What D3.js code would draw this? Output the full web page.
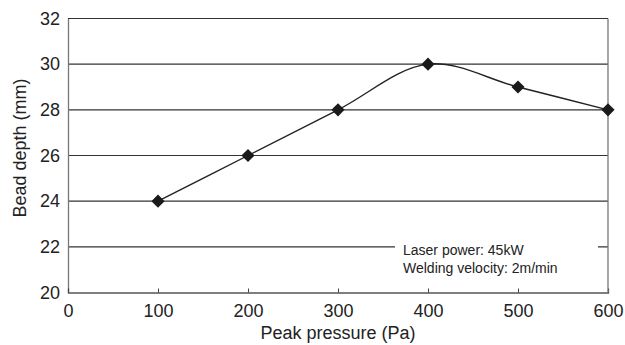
<!DOCTYPE html>
<html>
<head>
<meta charset="utf-8">
<script src="https://cdn.jsdelivr.net/npm/d3@7"></script>
<style>
  body { margin: 0; background: #fff; }
  text { font-family: "Liberation Sans", Arial, sans-serif; fill: #222; }
</style>
</head>
<body>
<svg id="canvas" width="625" height="345"></svg>
<script>
// data
let pressures = [100, 200, 300, 400, 500, 600]
let depths = [24, 26, 28, 30, 29, 28]
let xTicks = [0, 100, 200, 300, 400, 500, 600]
let yTicks = [20, 22, 24, 26, 28, 30, 32]
let notes = ['Laser power: 45kW', 'Welding velocity: 2m/min']

let canvas = d3.select('#canvas')

let plotLeft = 68, plotRight = 608, plotTop = 18.5, plotBottom = 292.5

let x = d3.scaleLinear().domain([0, 600]).range([plotLeft, plotRight])
let y = d3.scaleLinear().domain([20, 32]).range([plotBottom, plotTop])

// horizontal grid lines
canvas.selectAll('.grid')
  .data(yTicks.filter(t => t > 20))
  .enter()
  .append('line')
  .attr('x1', plotLeft).attr('x2', plotRight)
  .attr('y1', d => y(d)).attr('y2', d => y(d))
  .attr('stroke', '#333')
  .attr('stroke-width', 1.1)

// y axis
let yAxis = canvas.append('g')
  .attr('transform', `translate(${plotLeft},0)`)
  .call(d3.axisLeft(y).tickValues(yTicks).tickSize(0).tickPadding(8))
yAxis.select('.domain').attr('stroke', '#777').attr('stroke-width', 1.3)
yAxis.selectAll('text').style('font-size', '18px').attr('fill', '#222')

// x axis, ticks point upward
let xAxis = canvas.append('g')
  .attr('transform', `translate(0,${plotBottom})`)
  .call(d3.axisBottom(x).tickValues(xTicks).tickSize(-4).tickPadding(12))
xAxis.select('.domain').attr('stroke', '#555').attr('stroke-width', 1.3)
xAxis.selectAll('.tick line').attr('stroke', '#444')
xAxis.selectAll('text').style('font-size', '18px').attr('fill', '#222')

// right border
canvas.append('line')
  .attr('x1', plotRight).attr('x2', plotRight)
  .attr('y1', plotTop).attr('y2', plotBottom)
  .attr('stroke', '#777').attr('stroke-width', 1.3)

// note box covering the 22 line
canvas.append('rect')
  .attr('x', 395).attr('y', 236)
  .attr('width', 203).attr('height', 42)
  .attr('fill', '#fff')

canvas.selectAll('.note')
  .data(notes)
  .enter()
  .append('text')
  .attr('x', 403)
  .attr('y', (d, i) => 255 + i * 18)
  .style('font-size', '14px')
  .text(d => d)

// smoothed line
let points = pressures.map((p, i) => [p, depths[i]])
let line = d3.line()
  .x(d => x(d[0]))
  .y(d => y(d[1]))
  .curve(d3.curveCatmullRom.alpha(0.5))

canvas.append('path')
  .datum(points)
  .attr('d', line)
  .attr('fill', 'none')
  .attr('stroke', '#222')
  .attr('stroke-width', 1.4)

// diamond markers
let diamond = d3.symbol().type(d3.symbolDiamond2).size(110)
canvas.selectAll('.marker')
  .data(points)
  .enter()
  .append('path')
  .attr('d', diamond)
  .attr('transform', d => `translate(${x(d[0])},${y(d[1])})`)
  .attr('fill', '#1a1a1a')

// axis titles
canvas.append('text')
  .attr('x', 338)
  .attr('y', 339)
  .attr('text-anchor', 'middle')
  .style('font-size', '18px')
  .text('Peak pressure (Pa)')

canvas.append('text')
  .attr('transform', 'translate(26,148) rotate(-90)')
  .attr('text-anchor', 'middle')
  .style('font-size', '18px')
  .text('Bead depth (mm)')
</script>
</body>
</html>
